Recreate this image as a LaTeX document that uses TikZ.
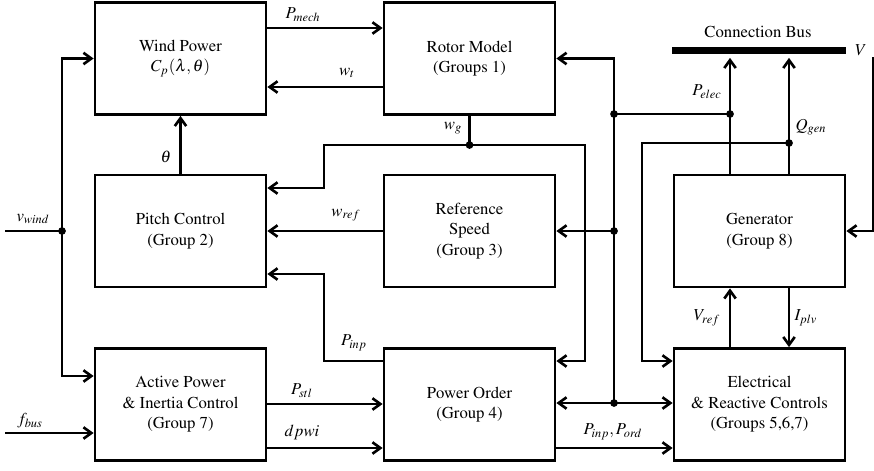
\documentclass[tikz,border=0pt]{standalone}
\usepackage[T1]{fontenc}
\usepackage{mathptmx}
\usepackage{tikz}
\usetikzlibrary{
	arrows.meta,
	positioning,
	calc
}

\tikzset{
	block/.style={draw,line width=1.6pt,minimum width=3.42cm,minimum height=2.24cm,align=center,inner sep=2pt},
	sig/.style={line width=1.5pt},
	lbl/.style={inner sep=1pt}
}

\begin{document}
\begin{tikzpicture}[x=0.02cm,y=-0.02cm,>={Straight Barb[length=4.5pt,width=6.5pt]},font=\fontsize{9.5}{11.7}\selectfont]
				\useasboundingbox (0,0) rectangle (874,470);
				
				% Blocks
				\node[block] (wind) at (180.5,58.5) {Wind Power\\$C_p(\lambda,\theta)$};
				\node[block] (rotor) at (469.5,58.5) {Rotor Model\\(Groups 1)};
				\node[block] (pitch) at (180.5,231) {Pitch Control\\(Group 2)};
				\node[block] (refspeed) at (469.5,231) {Reference\\Speed\\(Group 3)};
				\node[block] (active) at (180.5,404.5) {Active Power\\\& Inertia Control\\(Group 7)};
				\node[block] (order) at (469.5,404.5) {Power Order\\(Group 4)};
				\node[block] (gen) at (759.5,231) {Generator\\(Group 8)};
				\node[block] (elec) at (759.5,404.5) {Electrical\\\& Reactive Controls\\(Groups 5,6,7)};
				
				% Connection bus
				\node[fill,inner sep=0pt,minimum width=3.48cm,minimum height=0.14cm] (bus) at (759,50.5) {};
				\node (lbus) at (758,32) {Connection Bus};
				\node (lv) at (861,50) {$V$};
				
				% Junctions
				\coordinate (vin) at (5,231);
				\coordinate (fin) at (5,433);
				\coordinate (jw) at (62,231);
				\coordinate (jg) at (rotor.south |- 0,145);
				\coordinate (genP) at ($(gen.north)+(-29.5,0)$);
				\coordinate (genQ) at ($(gen.north)+(29.5,0)$);
				\coordinate (genV) at ($(gen.south)+(-29.5,0)$);
				\coordinate (genI) at ($(gen.south)+(29.5,0)$);
				\coordinate (jp) at (genP |- 0,114);
				\coordinate (jq) at (genQ |- 0,143);
				\coordinate (je) at (614,114);
				\coordinate (jr) at (614,231);
				\coordinate (jo) at (614,403);
				\coordinate (vbus) at (873,57);
				
				% Wind input
				\draw[sig] (vin) -- (jw);
				\draw[sig,->] (jw) |- (wind.west);
				\draw[sig,->] (jw) |- (active.west |- 0,376);
				\node[lbl] (lvwind) at (33,219) {$v_{wind}$};
				\draw[sig,->] (fin) -- (active.west |- fin);
				\node[lbl] (lfbus) at (30,421) {$f_{bus}$};
				
				% Rotor loop
				\draw[sig,->] (wind.east |- 0,28) -- (rotor.west |- 0,28);
				\node[lbl] (lpmech) at (303,15) {$P_{mech}$};
				\draw[sig,->] (rotor.west |- 0,87) -- (wind.east |- 0,87);
				\node[lbl] (lwt) at (347,73) {$w_t$};
				\draw[sig,->] (pitch.north) -- (wind.south);
				\node[lbl] (ltheta) at (166,157) {$\theta$};
				
				% Speed signals
				\draw[sig] (rotor.south) -- (jg);
				\node[lbl] (lwg) at (453,128) {$w_g$};
				\draw[sig,->] (jg) -| (324,188) -- (pitch.east |- 0,188);
				\draw[sig,->] (jg) -| (585,361) -- (order.east |- 0,361);
				\draw[sig,->] (refspeed.west) -- (pitch.east);
				\node[lbl] (lwref) at (346,215) {$w_{ref}$};
				
				% Power signals
				\draw[sig,->] (order.west |- 0,361) -| (324,274) -- (pitch.east |- 0,274);
				\node[lbl] (lpinp) at (354,343) {$P_{inp}$};
				\draw[sig,->] (active.east |- 0,404) -- (order.west |- 0,404);
				\node[lbl] (lpstl) at (302,391) {$P_{stl}$};
				\draw[sig,->] (active.east |- 0,448) -- (order.west |- 0,448);
				\node[lbl] (ldpwi) at (302,432) {$dpwi$};
				\draw[sig,->] (order.east |- 0,448) -- (elec.west |- 0,448);
				\node[lbl] (lpord) at (613,432) {$P_{inp},P_{ord}$};
				
				% Generator outputs
				\draw[sig,->,shorten >=2pt] (genP) -- (genP |- bus.south);
				\node[lbl] (lpelec) at (707,92) {$P_{elec}$};
				\draw[sig,->,shorten >=2pt] (genQ) -- (genQ |- bus.south);
				\node[lbl] (lqgen) at (811,127) {$Q_{gen}$};
				\draw[sig] (jp) -- (je);
				\draw[sig,->] (je) |- (rotor.east);
				\draw[sig] (je) -- (jo);
				\draw[sig,->] (jr) -- (refspeed.east);
				\draw[sig,->] (jo) -- (order.east |- jo);
				\draw[sig,->] (jo) -- (elec.west |- jo);
				\draw[sig,->] (jq) -| (642,361) -- (elec.west |- 0,361);
				\draw[sig,->] (vbus) |- (gen.east);
				
				% Electrical controls
				\draw[sig,->] (elec.north -| genV) -- (genV);
				\node[lbl] (lvref) at (707,318) {$V_{ref}$};
				\draw[sig,->] (genI) -- (elec.north -| genI);
				\node[lbl] (liplv) at (806,318) {$I_{plv}$};
				
				% Dots
				\foreach \c in {jw,jg,jp,jq,je,jr,jo}
				{
					\fill (\c) circle (2.2pt);
				}
				
			\end{tikzpicture}
\end{document}
